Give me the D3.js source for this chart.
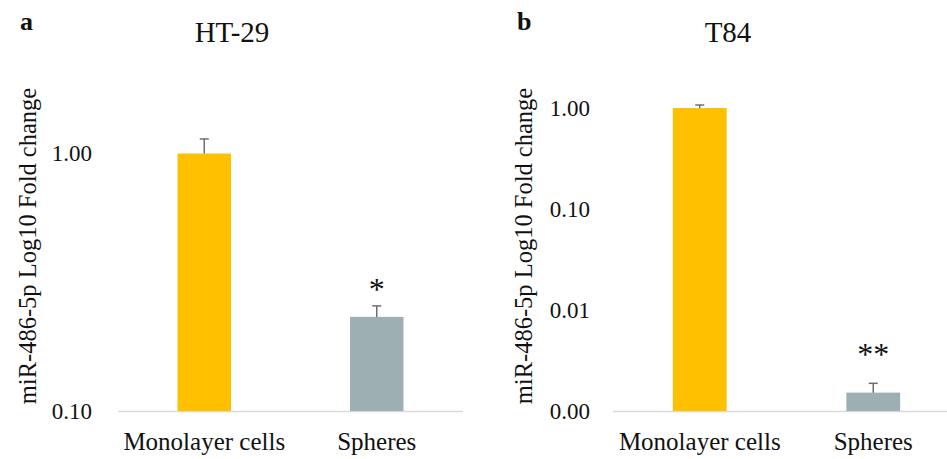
<!DOCTYPE html>
<html>
<head>
<meta charset="utf-8">
<script src="https://cdn.jsdelivr.net/npm/d3@7"></script>
<style>
  html, body { margin: 0; padding: 0; background: #fff; }
  svg { display: block; }
  text { font-family: "Liberation Serif", "DejaVu Serif", serif; fill: #111; }
</style>
</head>
<body>
<svg id="chart" width="947" height="459"></svg>
<script>
// Category names on the x axis
const categories = ["Monolayer cells", "Spheres"];

// HT-29: relative miR-486-5p expression (fold change) and upper error
const ht29Means = [1.00, 0.232];
const ht29Errors = [0.139, 0.024];
const ht29Stars = ["", "*"];
const ht29Ticks = [0.1, 1];

// T84: relative miR-486-5p expression (fold change) and upper error
const t84Means = [1.00, 0.00152];
const t84Errors = [0.07, 0.00036];
const t84Stars = ["", "**"];
const t84Ticks = [0.001, 0.01, 0.1, 1];

const barColors = ["#FFC000", "#9EAFB4"];
const yLabel = "miR-486-5p Log10 Fold change";

const svg = d3.select("#chart");
const fmt = d3.format(".2f");

function panel(opts) {
  const g = svg.append("g");
  const x = d3.scaleBand().domain(categories).range(opts.xRange).padding(0);
  const y = d3.scaleLog().domain(opts.yDomain).range(opts.yRange);
  const base = opts.yRange[0];
  const barW = x.bandwidth() * 0.31;

  // baseline
  g.append("line")
    .attr("x1", opts.xRange[0]).attr("x2", opts.xRange[1])
    .attr("y1", base + 0.5).attr("y2", base + 0.5)
    .attr("stroke", "#d9d9d9").attr("stroke-width", 1.5);

  const rows = categories.map((c, i) => ({
    c, v: opts.means[i], e: opts.errors[i], s: opts.stars[i], col: barColors[i]
  }));

  // bars
  g.selectAll("rect.bar").data(rows).join("rect")
    .attr("class", "bar")
    .attr("x", d => x(d.c) + x.bandwidth() / 2 - barW / 2)
    .attr("width", barW)
    .attr("y", d => y(d.v))
    .attr("height", d => base - y(d.v))
    .attr("fill", d => d.col);

  // upper error bars
  const cx = d => x(d.c) + x.bandwidth() / 2;
  g.selectAll("line.err").data(rows).join("line")
    .attr("class", "err")
    .attr("x1", cx).attr("x2", cx)
    .attr("y1", d => y(d.v)).attr("y2", d => y(d.v + d.e))
    .attr("stroke", "#6e6e6e").attr("stroke-width", 1.5);
  g.selectAll("line.cap").data(rows).join("line")
    .attr("class", "cap")
    .attr("x1", d => cx(d) - 4.5).attr("x2", d => cx(d) + 4.5)
    .attr("y1", d => y(d.v + d.e)).attr("y2", d => y(d.v + d.e))
    .attr("stroke", "#6e6e6e").attr("stroke-width", 1.5);

  // significance marks
  g.selectAll("text.star").data(rows.filter(d => d.s)).join("text")
    .attr("class", "star")
    .attr("x", cx)
    .attr("y", d => y(d.v + d.e) - opts.starGap)
    .attr("text-anchor", "middle")
    .style("font-size", "32px")
    .text(d => d.s);

  // y axis tick labels
  const yAxis = d3.axisLeft(y).tickValues(opts.ticks).tickFormat(fmt).tickSize(0).tickPadding(0);
  const ag = g.append("g").attr("transform", `translate(${opts.tickX},0)`).call(yAxis);
  ag.select(".domain").remove();
  ag.selectAll("text")
    .style("font-family", "'Liberation Serif', serif")
    .style("font-size", "23px")
    .attr("fill", "#111");

  // x axis category labels
  const xAxis = d3.axisBottom(x).tickSize(0).tickPadding(0);
  const xg = g.append("g").attr("transform", `translate(0,${opts.catY})`).call(xAxis);
  xg.select(".domain").remove();
  xg.selectAll("text")
    .attr("dy", 0).attr("y", 0)
    .style("font-family", "'Liberation Serif', serif")
    .style("font-size", "25px")
    .attr("fill", "#111");

  // title
  g.append("text")
    .attr("x", opts.titleX).attr("y", 42)
    .attr("text-anchor", "middle")
    .style("font-size", "29px")
    .text(opts.title);

  // panel letter
  g.append("text")
    .attr("x", opts.letterX).attr("y", 30)
    .style("font-size", "26px").style("font-weight", "bold")
    .text(opts.letter);

  // y axis title
  g.append("text")
    .attr("transform", `translate(${opts.yLabelX},246) rotate(-90)`)
    .attr("text-anchor", "middle")
    .style("font-size", "24.5px")
    .text(yLabel);
}

panel({
  xRange: [118, 463], yDomain: [0.1, 1], yRange: [411, 153.5],
  means: ht29Means, errors: ht29Errors, stars: ht29Stars, ticks: ht29Ticks,
  tickX: 92, catY: 450, title: "HT-29", titleX: 232, letter: "a", letterX: 20,
  yLabelX: 36, starGap: 6
});

panel({
  xRange: [613, 960], yDomain: [0.001, 1], yRange: [411, 108],
  means: t84Means, errors: t84Errors, stars: t84Stars, ticks: t84Ticks,
  tickX: 590, catY: 450, title: "T84", titleX: 728, letter: "b", letterX: 517,
  yLabelX: 532, starGap: 18
});
</script>
</body>
</html>
